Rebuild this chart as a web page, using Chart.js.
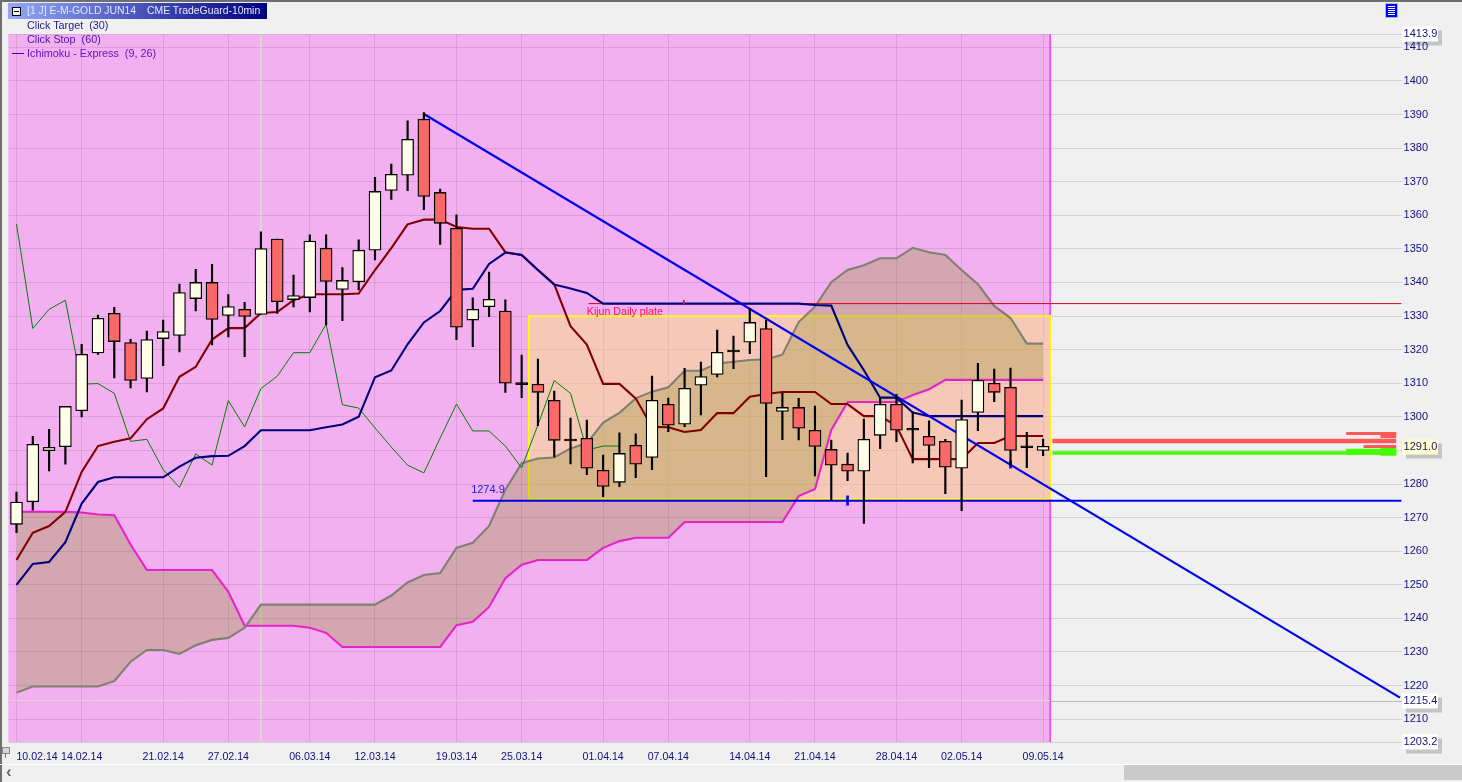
<!DOCTYPE html>
<html><head><meta charset="utf-8">
<style>
html,body{margin:0;padding:0;background:#f0f0f0;width:1462px;height:782px;overflow:hidden;font-family:"Liberation Sans",Arial,sans-serif}
canvas{position:absolute;left:0;top:0}
.o{position:absolute;white-space:pre;font-size:10.8px;line-height:14px}
</style>
<script src="https://cdn.jsdelivr.net/npm/chart.js@4"></script>
</head><body>
<canvas id="c" width="1462" height="782"></canvas>
<div class="o" style="left:0;top:0;width:1462px;height:1.5px;background:#6e6e6e"></div>
<div class="o" style="left:0;top:0;width:1.5px;height:782px;background:#6e6e6e"></div>
<div class="o" style="left:8px;top:3px;width:259px;height:16px;background:linear-gradient(90deg,#95a9f5,#000080);color:#e6e8ff;line-height:16px;font-size:10.4px"><span style="position:absolute;left:19px">[1 J] E-M-GOLD JUN14</span><span style="position:absolute;left:139px">CME TradeGuard-10min</span></div>
<div class="o" style="left:12px;top:7px;width:7px;height:7px;background:#f0f0f0;border:1px solid #000"><div style="position:absolute;left:1px;top:3px;width:5px;height:1px;background:#000"></div></div>
<div class="o" style="left:27px;top:18px;color:#1c1c8c">Click Target  (30)</div>
<div class="o" style="left:27px;top:32px;color:#4a10b0">Click Stop  (60)</div>
<div class="o" style="left:27px;top:46px;color:#5a10c0">Ichimoku - Express  (9, 26)</div>
<div class="o" style="left:12px;top:53px;width:12px;height:1px;background:#3000c0"></div>
<div class="o" style="left:1386px;top:4px;width:11px;height:13px;background:#0000f0;outline:1px solid #b8b8b8"><div style="position:absolute;left:2px;top:2px;width:7px;height:9px;background:repeating-linear-gradient(180deg,#fff 0 1px,#0000f0 1px 2px)"></div></div>
<div class="o" style="left:2px;top:747px;width:6px;height:5px;border:1px solid #888;background:#d8d8d8"></div>
<div class="o" style="left:5px;top:753px;width:1px;height:5px;background:#777"></div>
<div class="o" style="left:0;top:764px;width:1462px;height:1px;background:#fff"></div>
<div class="o" style="left:1124px;top:765px;width:338px;height:15px;background:#cacaca"></div>
<div class="o" style="left:6px;top:763px;color:#666;font-size:17px;line-height:17px;font-weight:bold">‹</div>
<script>
const dateTicks=[0,4,9,13,18,22,27,31,36,40,45,49,54,58,63];
const dateLabels=["10.02.14","14.02.14","21.02.14","27.02.14","06.03.14","12.03.14","19.03.14","25.03.14","01.04.14","07.04.14","14.04.14","21.04.14","28.04.14","02.05.14","09.05.14"];
const priceTicks=[1210,1220,1230,1240,1250,1260,1270,1280,1290,1300,1310,1320,1330,1340,1350,1360,1370,1380,1390,1400,1410];
const boxedPrices=[1413.9,1291.0,1215.4,1203.2];

const opens =[1268,1274.7,1289.9,1291.1,1301.8,1319,1330.8,1322.1,1311.4,1323.3,1324.2,1335.2,1340,1330.2,1332,1330.5,1352.9,1334.9,1335.5,1350.2,1337.9,1340.2,1349.6,1367.4,1371.9,1388.6,1366.8,1356.1,1328.8,1332.8,1331.5,1309.6,1309.7,1304.9,1292.8,1293.6,1284.1,1280.5,1291.5,1287.9,1303.7,1297.8,1309.4,1312.6,1319.3,1322.2,1326.3,1301.6,1302.8,1296,1290.3,1285.9,1283.8,1294.5,1303.7,1296,1294.2,1292.7,1284.7,1301.3,1310,1308.8,1290.8,1290];
const closes=[1274.6,1291.8,1290.9,1303.1,1318.6,1329.3,1322.4,1310.8,1323,1325.4,1337,1340,1329,1332.8,1329.9,1350.1,1334.3,1336.1,1352.3,1340.3,1340.6,1349.6,1367.1,1372.2,1382.6,1365.6,1357.6,1326.7,1332,1335,1310,1310.2,1307.3,1293,1293.4,1284.7,1279.3,1289.1,1285.9,1304.9,1297.5,1308.5,1312,1319.2,1319.9,1328.1,1304,1302.8,1296.6,1291.2,1285.6,1283.8,1293.3,1303.7,1296,1296.6,1291.5,1285,1299.2,1310.9,1307.3,1290,1291.4,1291.2];
const highs =[1277.6,1294.2,1296.3,1303.1,1321.6,1330.3,1332.6,1323.1,1325.5,1328.8,1339.5,1343.9,1345.4,1336.4,1334.1,1355.1,1352.9,1342.2,1354.2,1354.2,1344.4,1352.7,1371.3,1375.2,1388.1,1390.6,1367.8,1360.1,1335.4,1343.1,1334.8,1318.4,1317.2,1307.7,1299.6,1299,1288.6,1295.2,1294.9,1312.1,1305.6,1314.4,1316.3,1325.8,1324,1332.3,1328.8,1307,1305.5,1303.2,1293.1,1289.2,1299.3,1305.5,1306.7,1301.5,1298.8,1293.3,1305,1315.9,1314.2,1314.5,1295.4,1293.4];
const lows  =[1265.5,1272.2,1283.9,1285.9,1300,1318.6,1311.6,1308.6,1307.4,1315.2,1319.3,1331.5,1321.4,1323.8,1317.9,1330.5,1330.8,1332.7,1331.2,1327.4,1328.6,1337.8,1346.7,1364.7,1367.3,1361.7,1351.3,1323,1320.9,1329.8,1307.3,1305.7,1297.4,1288.1,1286,1282.8,1276.2,1279.2,1281.9,1284.3,1295.6,1297.1,1300.6,1311.9,1314.3,1318.8,1282.2,1293.2,1293.1,1282.4,1275.2,1281,1268.3,1290.5,1292.6,1286.3,1284.9,1277.1,1272.1,1295.9,1304.5,1285.7,1284.9,1288.4];

const tenkan=[1257.4,1265.5,1267.5,1271.7,1283.6,1291.3,1292.6,1293.6,1299.3,1302.5,1311.9,1314.9,1323,1326.4,1326.4,1330.9,1331.2,1334.7,1336.5,1336.5,1336.5,1336.7,1343.7,1350.2,1357.3,1358.7,1358.7,1356.5,1356,1356,1349,1348.2,1343.7,1339.4,1327,1321.5,1309.8,1309.8,1305.5,1297,1296.9,1295.5,1296.1,1301.1,1301.1,1306,1306.8,1307.4,1307.4,1307.4,1303.8,1303.8,1300.2,1300.2,1297.3,1287.4,1287.4,1287.4,1287.4,1292.2,1292.2,1294.3,1294.3,1294.3];
const kijun=[1250,1256.2,1256.8,1262.7,1274.2,1280.6,1282,1282,1282,1282,1285.2,1287.8,1288.3,1288.4,1291.3,1296,1296,1296,1296,1296.9,1297.7,1300,1311.8,1313.8,1321.6,1328.1,1331.5,1337.8,1338.1,1345.5,1348.9,1348.2,1343.7,1339.4,1338.2,1336.9,1333.7,1333.7,1333.7,1333.7,1333.7,1333.7,1333.7,1333.7,1333.7,1333.7,1333.7,1333.7,1333.7,1333.3,1333.1,1321.4,1313.9,1305.7,1305.7,1301.3,1300.2,1300.2,1300.2,1300.2,1300.2,1300.2,1300.2,1300.2];
const chikou=[1357.4,1326.3,1332,1334.7,1309.7,1309.9,1307,1292.7,1293.3,1284.3,1279,1289,1285.6,1304.8,1297,1308.4,1312.1,1319.1,1319.1,1327.6,1303.6,1302.6,1296.7,1291,1285.6,1283.3,1293.7,1303.8,1295.8,1295.8,1291.3,1284.8,1297.6,1310.8,1307,1290.1,1291.3,1291.3];
const senkouA=[1217.9,1219.7,1219.7,1219.7,1219.7,1219.7,1221.3,1227.1,1230.6,1230.6,1229.4,1232,1233.6,1234.2,1237.2,1244.1,1244.1,1244.1,1244.1,1244.1,1244.1,1244.1,1244.1,1246.8,1250.7,1252.9,1253.5,1261,1262.5,1267.5,1278.3,1286.2,1287.6,1287.9,1290.6,1292.1,1298.3,1301.2,1305.5,1307.5,1308.8,1313.7,1313.7,1315.9,1316.4,1316.9,1317.1,1318.5,1328.2,1332.8,1340.1,1343.7,1345.1,1347.2,1347.2,1350.3,1349,1348.2,1343.7,1339.5,1333,1329.4,1321.8,1321.8];
const senkouB=[1271.7,1271.7,1271.7,1271.7,1271.5,1270.9,1270.7,1262,1254.4,1254.4,1254.4,1254.4,1254.4,1247.9,1237.8,1237.8,1237.8,1237.8,1237.2,1235.7,1231.5,1231.5,1231.5,1231.5,1231.5,1231.5,1231.5,1238,1239,1243.4,1252,1256,1257.4,1257.4,1257.4,1257.4,1261,1263,1264,1264,1264,1268.7,1268.7,1268.7,1268.7,1268.7,1268.7,1268.7,1276.4,1278.5,1296.1,1304.4,1304.4,1304.4,1304.4,1306.5,1308.2,1311,1311,1311,1311,1311,1311,1311];

const trendFrom={x:25.05,y:1390}, trendTo={x:84.9,y:1216.4};
const supportLevel=1275.0, supportStart=28, kijunPlate=1333.7, plateStart=35.1;
const sessionEnd=63.43, boxStart=31.44, boxTop=1330, boxBottom=1275.6;
const cursorX=15, cursorY=1215.4, axisMin=1203.2, axisMax=1413.9, xMin=-0.5, xMax=85;
const orderLines=[
 {c:"#ff5858",w:4.5,x0:63.57,x1:84.67,y:1292.8},
 {c:"#ff5858",w:3,x0:81.6,x1:84.67,y:1295},
 {c:"#ff5858",w:6,x0:83.7,x1:84.67,y:1294.6},
 {c:"#ff5858",w:3,x0:82.67,x1:84.67,y:1291.2},
 {c:"#44ff00",w:3.5,x0:63.57,x1:84.67,y:1289.2},
 {c:"#44ff00",w:6,x0:81.6,x1:84.67,y:1289.6},
 {c:"#44ff00",w:8,x0:83.7,x1:84.67,y:1289.6}];
const blueTicks=[{x:51,y:[1273.7,1276.5]},{x:61,y:[1284.7,1286.8]}];
const redTicks=[{x:40.95,y:[1333.7,1334.7]}];

const seq=a=>a.map((v,i)=>({x:i,y:v}));
const lineDs=(data,color,w,order,extra)=>Object.assign({type:'line',data,borderColor:color,borderWidth:w,pointRadius:0,tension:0,fill:false,order,borderCapStyle:'butt',borderJoinStyle:'miter'},extra||{});
const seg=(a,b)=>[{x:a.x,y:a.y},{x:b.x,y:b.y}];
const bodyColor=(o,c)=>Math.abs(o-c)<0.7?'#000':(c>=o?'#ffffe8':'#fb6868');

const bgPlugin={id:'bg',
 beforeDraw(ch){const c=ch.ctx,x=ch.scales.x,y=ch.scales.y;
  c.save();
  c.fillStyle='#f3b0f0';
  c.fillRect(x.left,y.top,x.getPixelForValue(sessionEnd)-x.left,y.bottom-y.top);
  boxedPrices.forEach(p=>{
    const py=y.getPixelForValue(p),L=1402,W=36,H=15,T=Math.round(py)-7.5;
    c.fillStyle='#c4c4c4';c.fillRect(L+4,T+4,W,H);
    c.fillStyle=p===1291?'#ffffd0':'#ffffff';c.fillRect(L,T,W,H);
  });
  c.restore();},
 beforeDatasetsDraw(ch){const c=ch.ctx,x=ch.scales.x,y=ch.scales.y;
  c.save();
  const xe=x.getPixelForValue(sessionEnd),xs=x.getPixelForValue(boxStart),yt=y.getPixelForValue(boxTop),yb=y.getPixelForValue(boxBottom);
  c.strokeStyle='#ff10f0';c.lineWidth=1.2;c.beginPath();c.moveTo(xe,y.top);c.lineTo(xe,y.bottom);c.stroke();
  c.fillStyle='rgba(249,224,128,0.5)';c.fillRect(xs,yt,xe-xs,yb-yt);
  c.strokeStyle='#ffff00';c.lineWidth=1.6;c.strokeRect(xs,yt,xe-xs,yb-yt);
  c.restore();},
 afterDatasetsDraw(ch){const c=ch.ctx,x=ch.scales.x,y=ch.scales.y;
  c.save();c.textBaseline='alphabetic';
  c.font='11px "Liberation Sans"';
  c.fillStyle='#1a1ae0';c.fillText('1274.9',x.getPixelForValue(27.9),y.getPixelForValue(1277.4));
  c.font='10.6px "Liberation Sans"';
  c.fillStyle='#ff1060';c.fillText('Kijun Daily plate',x.getPixelForValue(35.0),y.getPixelForValue(1330.4));
  c.restore();}
};

new Chart(document.getElementById('c'),{
 type:'line',
 data:{datasets:[
  {type:'bar',grouped:false,order:1,barThickness:12,borderWidth:1.3,borderColor:'#000',borderSkipped:false,
   backgroundColor:opens.map((o,i)=>bodyColor(o,closes[i])),
   data:opens.map((o,i)=>({x:i,y:[o,closes[i]]}))},
  {type:'bar',grouped:false,order:2,barThickness:1.5,borderWidth:0,backgroundColor:'#000',
   data:highs.map((h,i)=>({x:i,y:[lows[i],h]}))},
  {type:'bar',grouped:false,order:3,barThickness:2,borderWidth:0,backgroundColor:'#0000ff',data:blueTicks},
  {type:'bar',grouped:false,order:3,barThickness:1,borderWidth:0,backgroundColor:'#d01040',data:redTicks},
  lineDs(seg(trendFrom,trendTo),'#0000f0',2.2,4),
  lineDs(seq(kijun),'#00007c',2.1,5),
  lineDs(seq(tenkan),'#800000',2.1,6),
  lineDs(seg({x:supportStart,y:supportLevel},{x:xMax,y:supportLevel}),'#0000f0',2,7),
  lineDs(seg({x:plateStart,y:kijunPlate},{x:xMax,y:kijunPlate}),'#d80018',1,8),
  lineDs(seq(chikou),'#008000',1,9),
  ...orderLines.map((l,i)=>lineDs(seg({x:l.x0,y:l.y},{x:l.x1,y:l.y}),l.c,l.w,10)),
  lineDs(seq(senkouA),'#808070',2.1,11,{fill:{target:'+1'},backgroundColor:'rgba(140,143,33,0.30)'}),
  lineDs(seq(senkouB),'#f810e8',2.1,11),
  lineDs(seg({x:cursorX,y:axisMin},{x:cursorX,y:axisMax}),'#c8ffb0',1,12),
  lineDs(seg({x:xMin,y:cursorY},{x:sessionEnd,y:cursorY}),'#f6e4e8',1,12)
 ]},
 options:{
  responsive:false,animation:false,devicePixelRatio:1,
  layout:{padding:{left:8.35,top:34.2,right:0,bottom:0}},
  plugins:{legend:{display:false},tooltip:{enabled:false},title:{display:false}},
  scales:{
   x:{type:'linear',position:'bottom',min:xMin,max:xMax,offset:false,
    border:{display:false},
    grid:{offset:false,color:'rgba(130,100,120,0.22)',lineWidth:1,drawTicks:false},
    afterBuildTicks(s){s.ticks=dateTicks.map(v=>({value:v}));},
    afterFit(s){s.height=40;s.paddingLeft=0;s.paddingRight=0;},
    ticks:{autoSkip:false,maxRotation:0,minRotation:0,padding:9,color:'#10107c',font:{family:'"Liberation Sans"',size:10.6},
     callback(v){const i=dateTicks.indexOf(v);return i===0?'              '+dateLabels[0]:dateLabels[i];}}},
   y:{type:'linear',position:'right',min:axisMin,max:axisMax,
    border:{display:false},
    grid:{drawTicks:false,lineWidth:1,
     color(ctx){const v=ctx.tick&&ctx.tick.value;if(v===1291)return 'rgba(0,0,0,0)';return v===1215.4?'rgba(110,100,110,0.4)':'rgba(130,100,120,0.22)';}},
    afterBuildTicks(s){s.ticks=[...priceTicks,...boxedPrices].sort((a,b)=>a-b).map(v=>({value:v}));},
    afterFit(s){s.width=60.4;s.paddingTop=0;s.paddingBottom=0;},
    ticks:{autoSkip:false,padding:2,font:{family:'"Liberation Sans"',size:11},
     color(ctx){return boxedPrices.includes(ctx.tick.value)?'#14146a':'#10107c';},
     callback(v){if(v===1290)return '';return boxedPrices.includes(v)?v.toFixed(1):String(v);}}}
  }
 },
 plugins:[bgPlugin]
});
</script>
</body></html>
